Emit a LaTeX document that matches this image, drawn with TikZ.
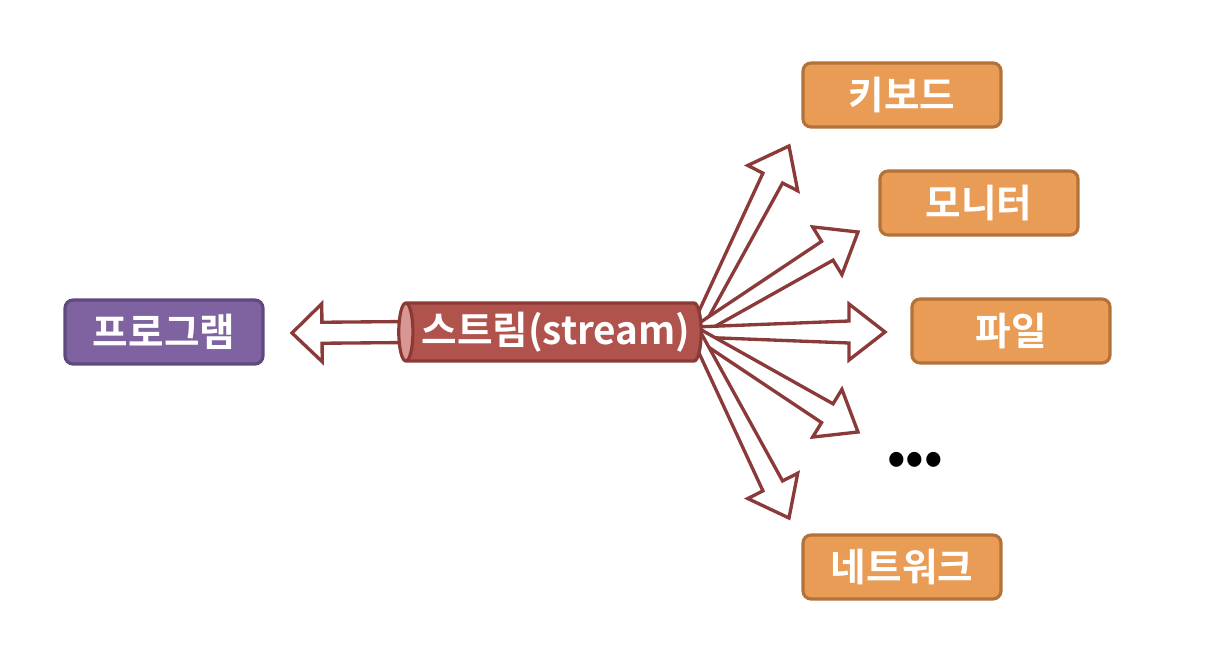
\documentclass[tikz,border=0pt]{standalone}
\usepackage{fontspec}
\newfontfamily\krfont{Noto Sans CJK KR}[BoldFont={* Bold}]
\usetikzlibrary{calc, shapes.geometric}

\definecolor{progfill}{RGB}{127,98,160}
\definecolor{progline}{RGB}{94,74,126}
\definecolor{devfill}{RGB}{233,156,86}
\definecolor{devline}{RGB}{178,114,58}
\definecolor{pipefill}{RGB}{176,83,77}
\definecolor{pipeline}{RGB}{138,58,53}
\definecolor{pipeend}{RGB}{217,150,147}
\definecolor{arrline}{RGB}{139,58,58}

\pgfdeclarelayer{bg}
\pgfsetlayers{bg,main}

% hollow block arrow: from, tip, tail half-width, shaft half-width, head half-width, head length
\newcommand{\blockarrow}[6]{%
  \coordinate (ba-h) at ($(#2)!#6!(#1)$);
  \draw[flow] ($(#1)!#3!90:(#2)$) -- ($(ba-h)!#4!-90:(#1)$) -- ($(ba-h)!#5!-90:(#1)$)
    -- (#2) -- ($(ba-h)!#5!90:(#1)$) -- ($(ba-h)!#4!90:(#1)$) -- ($(#1)!#3!-90:(#2)$) -- cycle;
}

\begin{document}
\begin{tikzpicture}[x=0.02cm, y=-0.02cm,
    every node/.style={font=\krfont\bfseries\fontsize{22}{26}\selectfont, text=white},
    box/.style={draw, rounded corners=0.16cm, line width=1.8pt,
      minimum width=3.96cm, minimum height=1.28cm, inner sep=0pt},
    src/.style={box, fill=progfill, draw=progline},
    dev/.style={box, fill=devfill, draw=devline},
    pipe/.style={cylinder, shape border rotate=180, aspect=0.3, draw=pipeline,
      line width=1.8pt, cylinder uses custom fill, cylinder body fill=pipefill,
      cylinder end fill=pipeend, minimum height=6.05cm, minimum width=1.16cm, inner sep=2pt},
    flow/.style={draw=arrline, fill=white, line width=1.9pt, line join=miter},
  ]
  \useasboundingbox (0,0) rectangle (1210,666);

  % Program and stream
  \node[src] (prog) at (164,332) {프로그램};
  \node[pipe] (stream) at (556,332) {스트림(stream)};

  % Devices
  \node[dev] (kbd) at (902,95) {키보드};
  \node[dev] (mon) at (979,203) {모니터};
  \node[dev] (file) at (1011,331) {파일};
  \node[text=black, font=\krfont\bfseries\fontsize{28}{28}\selectfont] (etc) at (915,463) {•••};
  \node[dev] (net) at (902,567) {네트워크};

  % Arrow ends
  \coordinate (back) at ($(stream.west)+(12,0)$);
  \coordinate (hub) at ($(stream.east)+(-8,0)$);
  \coordinate (prog-tip) at (292,333);
  \coordinate (kbd-tip) at (789,146);
  \coordinate (mon-tip) at (858,232);
  \coordinate (file-tip) at (885,332);
  \coordinate (etc-tip) at (858,432);
  \coordinate (net-tip) at (789,518);

  % Arrows
  \begin{pgfonlayer}{bg}
    \blockarrow{back}{prog-tip}{0.21cm}{0.21cm}{0.58cm}{0.6cm}
    \foreach \t in {kbd-tip, mon-tip, file-tip, etc-tip, net-tip}
      {\blockarrow{hub}{\t}{0.1cm}{0.22cm}{0.56cm}{0.72cm}}
  \end{pgfonlayer}
\end{tikzpicture}
\end{document}
